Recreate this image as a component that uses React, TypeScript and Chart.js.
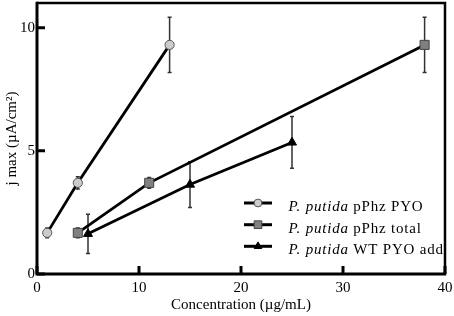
import React, { useEffect, useRef } from "react";
import { Chart, registerables } from "chart.js";

Chart.register(...registerables);

// ---- data ----
const pyoX = [1, 4, 13];
const pyoY = [1.67, 3.7, 9.3];
const pyoErr = [0.2, 0.25, 1.12];

const totalX = [4, 11, 38];
const totalY = [1.67, 3.7, 9.3];
const totalErr = [0.2, 0.22, 1.12];

const wtX = [5, 15, 25];
const wtY = [1.63, 3.63, 5.34];
const wtErr = [0.8, 0.93, 1.05];

const xTicks = [0, 10, 20, 30, 40];
const yTicks = [0, 5, 10];

const legendItalic = ["P. putida", "P. putida", "P. putida"];
const legendRest = [" pPhz PYO", " pPhz total", " WT PYO add"];

const xTitle = "Concentration (\u00B5g/mL)";
const yTitle = "j max (\u00B5A/cm\u00B2)";

const FONT = '"Liberation Serif", "Times New Roman", serif';

const styles = [
  { pointStyle: "circle", radius: 4.6, fill: "#cccccc", stroke: "#555555" },
  { pointStyle: "rect", radius: 6.4, fill: "#808080", stroke: "#444444" },
  { pointStyle: "triangle", radius: 5.2, fill: "#000000", stroke: "#000000" },
];

const errs = [pyoErr, totalErr, wtErr];

function drawMarker(ctx: CanvasRenderingContext2D, kind: string, x: number, y: number, r: number, fill: string, stroke: string) {
  ctx.save();
  ctx.fillStyle = fill;
  ctx.strokeStyle = stroke;
  ctx.lineWidth = 1;
  ctx.beginPath();
  if (kind === "circle") {
    ctx.arc(x, y, r, 0, Math.PI * 2);
  } else if (kind === "rect") {
    const s = Math.SQRT1_2 * r;
    ctx.rect(x - s, y - s, 2 * s, 2 * s);
  } else {
    ctx.moveTo(x, y - r);
    ctx.lineTo(x + r * Math.sin((2 * Math.PI) / 3), y - r * Math.cos((2 * Math.PI) / 3));
    ctx.lineTo(x + r * Math.sin((4 * Math.PI) / 3), y - r * Math.cos((4 * Math.PI) / 3));
    ctx.closePath();
  }
  ctx.fill();
  ctx.stroke();
  ctx.restore();
}

const errorBarPlugin = {
  id: "errorBars",
  beforeDatasetsDraw(chart: any) {
    const ctx = chart.ctx as CanvasRenderingContext2D;
    const xs = chart.scales.x;
    const ys = chart.scales.y;
    ctx.save();
    ctx.strokeStyle = "#333333";
    ctx.lineWidth = 1.5;
    chart.data.datasets.forEach((ds: any, i: number) => {
      ds.data.forEach((p: any, j: number) => {
        const e = errs[i][j];
        const px = xs.getPixelForValue(p.x);
        const top = ys.getPixelForValue(p.y + e);
        const bot = ys.getPixelForValue(p.y - e);
        ctx.beginPath();
        ctx.moveTo(px, top);
        ctx.lineTo(px, bot);
        ctx.moveTo(px - 2, top);
        ctx.lineTo(px + 2, top);
        ctx.moveTo(px - 2, bot);
        ctx.lineTo(px + 2, bot);
        ctx.stroke();
      });
    });
    ctx.restore();
  },
};

const framePlugin = {
  id: "frame",
  afterDraw(chart: any) {
    const ctx = chart.ctx as CanvasRenderingContext2D;
    const { left, right, top, bottom } = chart.chartArea;
    const xs = chart.scales.x;
    const ys = chart.scales.y;
    ctx.save();
    ctx.strokeStyle = "#000";
    // top & right
    ctx.lineWidth = 2.5;
    ctx.beginPath();
    ctx.moveTo(left, top);
    ctx.lineTo(right, top);
    ctx.lineTo(right, bottom);
    ctx.stroke();
    // left & bottom
    ctx.lineWidth = 3;
    ctx.beginPath();
    ctx.moveTo(left, top - 1.2);
    ctx.lineTo(left, bottom);
    ctx.lineTo(right + 1.2, bottom);
    ctx.stroke();
    // inward ticks
    ctx.lineWidth = 3;
    ctx.beginPath();
    xTicks.forEach((v) => {
      const px = xs.getPixelForValue(v);
      ctx.moveTo(px, bottom);
      ctx.lineTo(px, bottom - 8);
    });
    yTicks.forEach((v) => {
      const py = ys.getPixelForValue(v);
      ctx.moveTo(left, py);
      ctx.lineTo(left + 8, py);
    });
    ctx.stroke();

    // legend
    const lx0 = 244;
    const lx1 = 272;
    const tx = 288.5;
    const rows = [203, 224.7, 246.3];
    rows.forEach((ry, i) => {
      ctx.strokeStyle = "#000";
      ctx.lineWidth = 3;
      ctx.beginPath();
      ctx.moveTo(lx0, ry);
      ctx.lineTo(lx1, ry);
      ctx.stroke();
      const st = styles[i];
      drawMarker(ctx, st.pointStyle, (lx0 + lx1) / 2, ry, st.radius * 0.85, st.fill, st.stroke);
      ctx.fillStyle = "#000";
      ctx.textBaseline = "alphabetic";
      ctx.textAlign = "left";
      (ctx as any).letterSpacing = "0.8px";
      ctx.font = "italic 15px " + FONT;
      ctx.fillText(legendItalic[i], tx, ry + 7.8);
      const w = ctx.measureText(legendItalic[i]).width;
      ctx.font = "15px " + FONT;
      ctx.fillText(legendRest[i], tx + w, ry + 7.8);
      (ctx as any).letterSpacing = "0px";
    });
    ctx.restore();
  },
};

export default function App() {
  const ref = useRef<HTMLCanvasElement | null>(null);
  useEffect(() => {
    document.body.style.margin = "0";
    const canvas = ref.current!;
    const mk = (xs: number[], ys: number[]) => xs.map((x, i) => ({ x, y: ys[i] }));
    const series = [mk(pyoX, pyoY), mk(totalX, totalY), mk(wtX, wtY)];
    const chart = new Chart(canvas, {
      type: "line",
      data: {
        datasets: series.map((d, i) => ({
          data: d,
          borderColor: "#000",
          borderWidth: 2.8,
          pointStyle: styles[i].pointStyle as any,
          pointRadius: styles[i].radius,
          pointBackgroundColor: styles[i].fill,
          pointBorderColor: styles[i].stroke,
          pointBorderWidth: 1,
          fill: false,
          tension: 0,
        })),
      },
      options: {
        animation: false,
        responsive: false,
        devicePixelRatio: 1,
        layout: { autoPadding: false, padding: { left: 0, right: 9, top: 3, bottom: 0 } },
        plugins: {
          legend: { display: false },
          tooltip: { enabled: false },
        },
        scales: {
          x: {
            type: "linear",
            min: 0,
            max: 40,
            afterBuildTicks: (s: any) => {
              s.ticks = xTicks.map((v) => ({ value: v }));
            },
            afterFit: (s: any) => {
              s.height = 42;
              s.paddingLeft = 0;
              s.paddingRight = 0;
            },
            grid: { display: false, drawTicks: false },
            border: { display: false },
            ticks: { color: "#000", font: { family: FONT, size: 15 }, padding: 5, maxRotation: 0 },
            title: {
              display: true,
              text: xTitle,
              color: "#000",
              font: { family: FONT, size: 15 },
              padding: { top: 0, bottom: 2 },
            },
          },
          y: {
            type: "linear",
            min: 0,
            max: 11,
            afterBuildTicks: (s: any) => {
              s.ticks = yTicks.map((v) => ({ value: v }));
            },
            afterFit: (s: any) => {
              s.width = 37;
              s.paddingTop = 0;
              s.paddingBottom = 0;
            },
            grid: { display: false, drawTicks: false },
            border: { display: false },
            ticks: { color: "#000", font: { family: FONT, size: 15 }, padding: 2 },
            title: {
              display: true,
              text: yTitle,
              color: "#000",
              font: { family: FONT, size: 15 },
              padding: { top: 3, bottom: 0 },
            },
          },
        },
      },
      plugins: [errorBarPlugin, framePlugin],
    } as any);
    return () => chart.destroy();
  }, []);
  return <canvas ref={ref} width={454} height={316} style={{ display: "block", width: 454, height: 316 }} />;
}
